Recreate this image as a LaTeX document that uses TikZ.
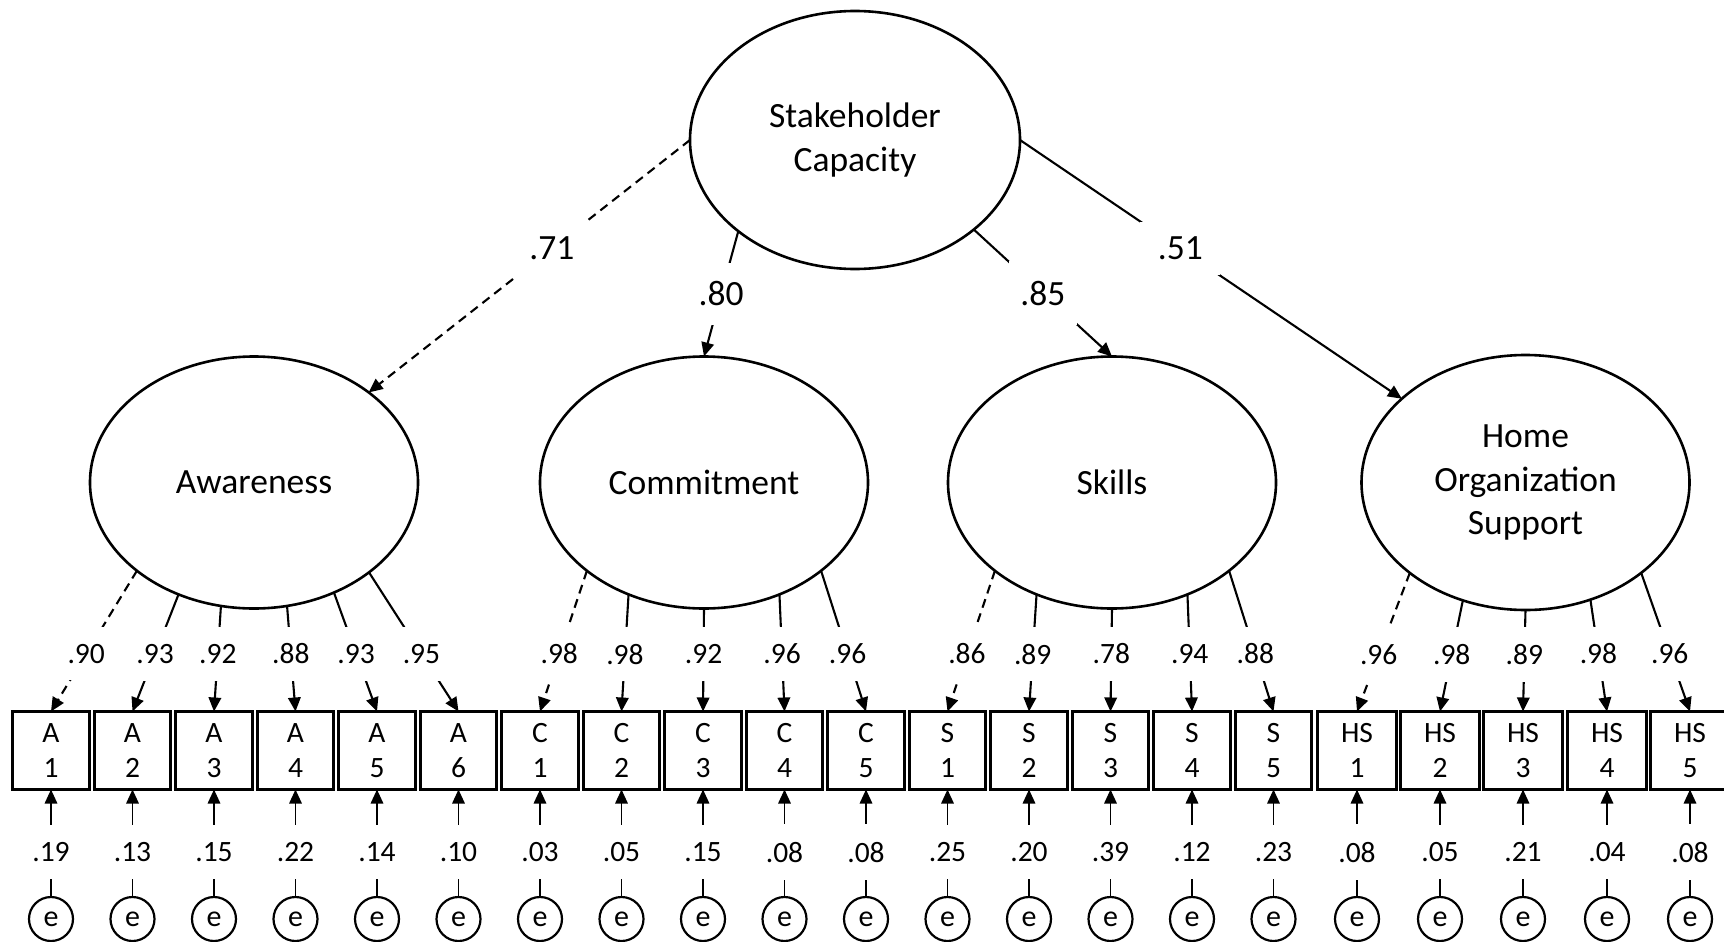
\documentclass[tikz,border=0pt]{standalone}
\usepackage{fontspec}
\setmainfont{Carlito}
\usetikzlibrary{shapes.geometric,arrows.meta}
\begin{document}
\begin{tikzpicture}[x=1pt,y=-1pt,
  latent/.style={ellipse,draw,line width=2.6pt,minimum width=328pt,minimum height=252pt,
    inner sep=0pt,outer sep=0pt,align=center,font=\fontsize{35.5}{43.5}\selectfont},
  obs/.style={rectangle,draw,line width=2.8pt,minimum height=78pt,
    inner sep=0pt,outer sep=0pt,align=center,font=\fontsize{29.5}{35}\selectfont},
  err/.style={circle,draw,line width=2.2pt,minimum size=44pt,inner sep=0pt,outer sep=0pt,
    font=\fontsize{30}{30}\selectfont},
  load/.style={line width=2.1pt,-{Triangle[length=14pt,width=12.5pt]}},
  dload/.style={load,dash pattern=on 9pt off 6pt},
  errarr/.style={line width=1.6pt,-{Triangle[length=14pt,width=12.5pt]}},
  lbl/.style={fill=white,inner xsep=3pt,inner ysep=17pt,font=\fontsize{29.5}{30}\selectfont},
  biglbl/.style={fill=white,font=\fontsize{35.5}{40}\selectfont}]
\useasboundingbox (0,0) rectangle (1724,942);

% latent variables
\node[latent,minimum width=330pt,minimum height=258pt] (SC) at (855,140) {Stakeholder\\Capacity};
\node[latent] (Aw) at (254,482.5) {Awareness};
\node[latent] (Co) at (704,482.5) {Commitment};
\node[latent] (Sk) at (1112,482.5) {Skills};
\node[latent,minimum height=255pt] (HOS) at (1525.5,482.5) {Home\\Organization\\Support};

% second-order loadings
\draw[dload] (SC.west) -- node[biglbl,pos=.43,inner xsep=13pt,inner ysep=16.5pt] {.71} (Aw);
\draw[load] (SC.218) -- node[biglbl,pos=.5,inner xsep=4pt,inner ysep=19pt] {.80} (Co.north);
\draw[load] (SC.-37) -- node[biglbl,pos=.5,inner xsep=11.5pt,inner ysep=20pt] {.85} (Sk.north);
\draw[load] (SC.east) -- node[biglbl,pos=.42,inner xsep=17.5pt,inner ysep=15pt] {.51} (HOS);

% indicators, errors, residuals
\foreach \n/\l/\d/\x/\w/\r in {
  A1/A/1/51/76.5/.19, A2/A/2/132.5/76.5/.13, A3/A/3/214/76.5/.15, A4/A/4/295.5/76.5/.22,
  A5/A/5/377/76.5/.14, A6/A/6/458.5/76.5/.10,
  C1/C/1/540/76.5/.03, C2/C/2/621.5/76.5/.05, C3/C/3/703/76.5/.15, C4/C/4/784.5/76.5/.08,
  C5/C/5/866/76.5/.08,
  S1/S/1/947.5/76.5/.25, S2/S/2/1029/76.5/.20, S3/S/3/1110.5/76.5/.39, S4/S/4/1192/76.5/.12,
  S5/S/5/1273.5/76.5/.23,
  HS1/HS/1/1357/79/.08, HS2/HS/2/1440/79/.05, HS3/HS/3/1523/79/.21, HS4/HS/4/1607/79/.04,
  HS5/HS/5/1690/79/.08}{
  \node[obs,minimum width=\w pt] (\n) at (\x,750.5) {\l\\\d};
  \node[err] (e\n) at (\x,919) {e};
  \draw[errarr] (e\n) -- node[lbl,pos=.418,inner ysep=17.5pt] {\r} (\n.south);
}

% first-order loadings (dashed = fixed)
\foreach \lat/\a/\n/\p/\v in {Aw/217/A1/.59/.90, Co/217/C1/.59/.98, Sk/217/S1/.59/.86, HOS/218/HS1/.59/.96}{
  \draw[dload] (\lat.\a) -- node[lbl,pos=\p] {\v} (\n.north);
}
\foreach \lat/\a/\n/\p/\v in {
  Aw/236/A2/.51/.93, Aw/255/A3/.455/.92, Aw/285/A4/.455/.88, Aw/306/A5/.516/.93, Aw/322/A6/.586/.95,
  Co/236/C2/.51/.98, Co/270/C3/.44/.92, Co/304/C4/.51/.96, Co/323/C5/.59/.96,
  Sk/236/S2/.51/.89, Sk/270/S3/.44/.78, Sk/304/S4/.51/.94, Sk/323/S5/.59/.88,
  HOS/242/HS2/.486/.98, HOS/270/HS3/.44/.89, HOS/299/HS4/.486/.98, HOS/322/HS5/.585/.96}{
  \draw[load] (\lat.\a) -- node[lbl,pos=\p] {\v} (\n.north);
}
\end{tikzpicture}
\end{document}
